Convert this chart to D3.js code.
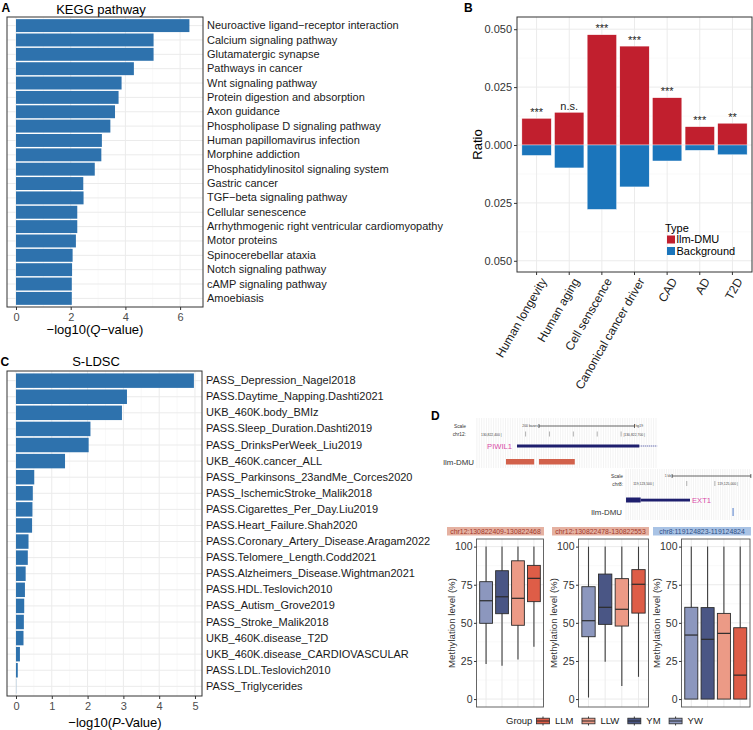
<!DOCTYPE html>
<html>
<head>
<meta charset="utf-8">
<script src="https://cdn.jsdelivr.net/npm/d3@7"></script>
<style>
  body { margin: 0; background: #fff; }
  svg { display: block; }
  text { font-family: "Liberation Sans", Arial, Helvetica, sans-serif; }
</style>
</head>
<body>
<svg width="753" height="730"></svg>
<script>
// ---------------- data ----------------
var keggPathways = [
  "Neuroactive ligand\u2212receptor interaction", "Calcium signaling pathway", "Glutamatergic synapse",
  "Pathways in cancer", "Wnt signaling pathway", "Protein digestion and absorption", "Axon guidance",
  "Phospholipase D signaling pathway", "Human papillomavirus infection", "Morphine addiction",
  "Phosphatidylinositol signaling system", "Gastric cancer", "TGF\u2212beta signaling pathway",
  "Cellular senescence", "Arrhythmogenic right ventricular cardiomyopathy", "Motor proteins",
  "Spinocerebellar ataxia", "Notch signaling pathway", "cAMP signaling pathway", "Amoebiasis"
];
var keggValues = [6.34, 5.03, 5.03, 4.31, 3.86, 3.75, 3.62, 3.45, 3.14, 3.12,
                  2.88, 2.46, 2.47, 2.24, 2.24, 2.19, 2.07, 2.05, 2.04, 2.04];
var keggTicks = [0, 2, 4, 6];

var ldscTraits = [
  "PASS_Depression_Nagel2018", "PASS.Daytime_Napping.Dashti2021", "UKB_460K.body_BMIz",
  "PASS.Sleep_Duration.Dashti2019", "PASS_DrinksPerWeek_Liu2019", "UKB_460K.cancer_ALL",
  "PASS_Parkinsons_23andMe_Corces2020", "PASS_IschemicStroke_Malik2018", "PASS.Cigarettes_Per_Day.Liu2019",
  "PASS.Heart_Failure.Shah2020", "PASS.Coronary_Artery_Disease.Aragam2022", "PASS.Telomere_Length.Codd2021",
  "PASS.Alzheimers_Disease.Wightman2021", "PASS.HDL.Teslovich2010", "PASS_Autism_Grove2019",
  "PASS_Stroke_Malik2018", "UKB_460K.disease_T2D", "UKB_460K.disease_CARDIOVASCULAR",
  "PASS.LDL.Teslovich2010", "PASS_Triglycerides"
];
var ldscValues = [4.97, 3.10, 2.96, 2.08, 2.03, 1.37, 0.51, 0.47, 0.46, 0.45,
                  0.35, 0.33, 0.27, 0.25, 0.23, 0.22, 0.21, 0.11, 0.05, 0.005];
var ldscTicks = [0, 1, 2, 3, 4, 5];

var geneSets = ["Human longevity", "Human aging", "Cell senscence", "Canonical cancer driver", "CAD", "AD", "T2D"];
var dmuRatio = [0.0115, 0.0141, 0.0476, 0.0427, 0.0204, 0.0079, 0.0094];
var backgroundRatio = [0.0045, 0.0099, 0.0278, 0.0181, 0.0069, 0.0023, 0.0042];
var sigLabels = ["***", "n.s.", "***", "***", "***", "***", "**"];
var ratioTicks = [-0.05, -0.025, 0, 0.025, 0.05];
var typeNames = ["llm-DMU", "Background"];

var groups = ["YW", "YM", "LLW", "LLM"];
var regionNames = ["chr12:130822409-130822468", "chr12:130822478-130822553", "chr8:119124823-119124824"];
// per region, per group: [lower whisker, Q1, median, Q3, upper whisker]
var boxRegion1 = [[23, 49.7, 64.5, 77, 100], [21.8, 56, 67.1, 84.2, 100], [26, 48.4, 66.1, 90.7, 100], [34.3, 63.9, 79.2, 87.7, 100]];
var boxRegion2 = [[1, 40.9, 51.4, 73.7, 100], [24.5, 49, 60.2, 82, 100], [8.5, 47.9, 58.9, 79, 100], [14.6, 56.4, 75.3, 84.9, 100]];
var boxRegion3 = [[0, 0, 42, 60.2, 100], [0, 0, 39.2, 60, 100], [0, 0, 43.1, 56.2, 100], [0, 0, 15.7, 46.8, 100]];
var methTicks = [0, 25, 50, 75, 100];

// genome browser tracks (hg19)
var piwil1Window = [130822348, 130822726];
var piwil1Exon = [130822432, 130822688];
var piwil1Dmus = [[130822409, 130822468], [130822478, 130822553]];
var piwil1RulerTicks = [130822450, 130822500, 130822550, 130822600, 130822650];
var ext1Window = [119122920, 119125150];
var ext1Cds = [119122920, 119123180];
var ext1Utr = [119123180, 119124058];
var ext1Dmu = [119124823, 119124824];
var ext1RulerTicks = [119124000, 119124500];

// ---------------- styles ----------------
var BAR = "#2e72ad", RED = "#c11f2e", BLUE = "#1b75bb";
var GRID = "#ebebeb", GRID_MINOR = "#f5f5f5", BORDER = "#333333", TICKTXT = "#4d4d4d";
var groupColor = { YW: "#8c97be", YM: "#4a5685", LLW: "#ec9a86", LLM: "#de5d47" };
var GENE = "#1e1f6e", MAGENTA = "#d84aa8", DMU = "#d2614b";

var svg = d3.select("svg");

function letter(t, x, y) {
  svg.append("text").attr("x", x).attr("y", y).attr("font-size", 12).attr("font-weight", "bold").text(t);
}
function styleAxis(g, size, color) {
  g.attr("font-family", null).attr("font-size", size);
  g.select(".domain").remove();
  g.selectAll(".tick line").attr("stroke", BORDER);
  g.selectAll(".tick text").attr("fill", color);
}

// ---------------- A & C: horizontal bar panels ----------------
function hbarPanel(names, values, box, xDomain, majors, minors) {
  var g = svg.append("g");
  var x = d3.scaleLinear().domain(xDomain).range([box.l, box.r]);
  var y = d3.scaleBand().domain(names).range([box.t, box.b]).paddingInner(0.1).paddingOuter(0.15);
  var c = y.bandwidth() / 2;
  g.selectAll(".mn").data(minors).enter().append("line")
    .attr("x1", x).attr("x2", x).attr("y1", box.t).attr("y2", box.b)
    .attr("stroke", GRID_MINOR).attr("stroke-width", 0.6);
  g.selectAll(".mj").data(majors).enter().append("line")
    .attr("x1", x).attr("x2", x).attr("y1", box.t).attr("y2", box.b)
    .attr("stroke", GRID).attr("stroke-width", 1);
  g.selectAll(".hj").data(names).enter().append("line")
    .attr("x1", box.l).attr("x2", box.r)
    .attr("y1", function (d) { return y(d) + c; }).attr("y2", function (d) { return y(d) + c; })
    .attr("stroke", GRID).attr("stroke-width", 1);
  g.selectAll(".bar").data(values).enter().append("rect")
    .attr("x", x(0)).attr("y", function (d, i) { return y(names[i]); })
    .attr("width", function (d) { return x(d) - x(0); }).attr("height", y.bandwidth())
    .attr("fill", BAR);
  g.append("rect").attr("x", box.l).attr("y", box.t).attr("width", box.r - box.l).attr("height", box.b - box.t)
    .attr("fill", "none").attr("stroke", BORDER).attr("stroke-width", 1);
  var ax = g.append("g").attr("transform", "translate(0," + box.b + ")")
    .call(d3.axisBottom(x).tickValues(majors).tickSize(3).tickPadding(3).tickFormat(d3.format("d")));
  styleAxis(ax, 11, TICKTXT);
  var ay = g.append("g").attr("transform", "translate(" + box.r + ",0)")
    .call(d3.axisRight(y).tickSize(0).tickPadding(4));
  styleAxis(ay, 11, "#1a1a1a");
  return g;
}

function axisTitle(x, y, before, italic, after) {
  var t = svg.append("text").attr("x", x).attr("y", y).attr("text-anchor", "middle").attr("font-size", 13);
  t.append("tspan").text(before);
  t.append("tspan").attr("font-style", "italic").text(italic);
  t.append("tspan").text(after);
}

letter("A", 1.5, 11.7);
svg.append("text").attr("x", 101).attr("y", 14).attr("text-anchor", "middle").attr("font-size", 13).text("KEGG pathway");
hbarPanel(keggPathways, keggValues, { l: 7, r: 203, t: 17, b: 307 }, [-0.329, 6.837], keggTicks, [1, 3, 5]);
axisTitle(95, 334, "\u2212log10(", "Q", "\u2212value)");

letter("C", 0.5, 365.7);
svg.append("text").attr("x", 96).attr("y", 365.7).attr("text-anchor", "middle").attr("font-size", 13).text("S-LDSC");
hbarPanel(ldscTraits, ldscValues, { l: 7, r: 202, t: 371, b: 696 }, [-0.251, 5.196], ldscTicks, [0.5, 1.5, 2.5, 3.5, 4.5]);
axisTitle(115, 727, "\u2212log10(", "P", "-Value)");

// ---------------- B: ratio bars ----------------
(function () {
  var box = { l: 517, r: 752, t: 17, b: 272 };
  var g = svg.append("g");
  var x = d3.scaleBand().domain(geneSets).range([box.l, box.r]).paddingInner(0.1).paddingOuter(0.15);
  var y = d3.scaleLinear().domain([-0.05484, 0.05527]).range([box.b, box.t]);
  var c = x.bandwidth() / 2;
  g.selectAll(".mn").data([-0.0375, -0.0125, 0.0125, 0.0375]).enter().append("line")
    .attr("x1", box.l).attr("x2", box.r).attr("y1", y).attr("y2", y)
    .attr("stroke", GRID_MINOR).attr("stroke-width", 0.6);
  g.selectAll(".mj").data(ratioTicks).enter().append("line")
    .attr("x1", box.l).attr("x2", box.r).attr("y1", y).attr("y2", y)
    .attr("stroke", GRID).attr("stroke-width", 1);
  g.selectAll(".vj").data(geneSets).enter().append("line")
    .attr("x1", function (d) { return x(d) + c; }).attr("x2", function (d) { return x(d) + c; })
    .attr("y1", box.t).attr("y2", box.b).attr("stroke", GRID).attr("stroke-width", 1);
  g.selectAll(".up").data(dmuRatio).enter().append("rect")
    .attr("x", function (d, i) { return x(geneSets[i]); }).attr("width", x.bandwidth())
    .attr("y", function (d) { return y(d); }).attr("height", function (d) { return y(0) - y(d); })
    .attr("fill", RED).attr("stroke", "#fff").attr("stroke-width", 0.4);
  g.selectAll(".dn").data(backgroundRatio).enter().append("rect")
    .attr("x", function (d, i) { return x(geneSets[i]); }).attr("width", x.bandwidth())
    .attr("y", y(0)).attr("height", function (d) { return y(-d) - y(0); })
    .attr("fill", BLUE).attr("stroke", "#fff").attr("stroke-width", 0.4);
  g.selectAll(".sig").data(sigLabels).enter().append("text")
    .attr("x", function (d, i) { return x(geneSets[i]) + c; })
    .attr("y", function (d, i) { return y(dmuRatio[i]) - 2.5; })
    .attr("text-anchor", "middle").attr("font-size", 11).attr("fill", "#222").text(function (d) { return d; });
  g.append("rect").attr("x", box.l).attr("y", box.t).attr("width", box.r - box.l).attr("height", box.b - box.t)
    .attr("fill", "none").attr("stroke", BORDER).attr("stroke-width", 1);
  var ay = g.append("g").attr("transform", "translate(" + box.l + ",0)")
    .call(d3.axisLeft(y).tickValues(ratioTicks).tickSize(3).tickPadding(2)
      .tickFormat(function (d) { return d3.format(".3f")(Math.abs(d)); }));
  styleAxis(ay, 11, "#333");
  var ax = g.append("g").attr("transform", "translate(0," + box.b + ")")
    .call(d3.axisBottom(x).tickSize(3).tickPadding(2));
  styleAxis(ax, 12, "#222");
  ax.selectAll(".tick text").attr("text-anchor", "end").attr("dy", "0.6em")
    .attr("transform", "translate(0,3) rotate(-60)");
  svg.append("text").attr("transform", "translate(481.5," + ((box.t + box.b) / 2) + ") rotate(-90)")
    .attr("text-anchor", "middle").attr("font-size", 13).text("Ratio");
  // legend
  svg.append("text").attr("x", 665).attr("y", 232).attr("font-size", 11).text("Type");
  var lg = svg.append("g").selectAll("g").data(typeNames).enter().append("g")
    .attr("transform", function (d, i) { return "translate(667," + (235.5 + i * 11.5) + ")"; });
  lg.append("rect").attr("width", 8).attr("height", 8).attr("fill", function (d, i) { return i ? BLUE : RED; });
  lg.append("text").attr("x", 9.5).attr("y", 4).attr("dy", "0.35em").attr("font-size", 11).text(function (d) { return d; });
  letter("B", 464, 11.7);
})();

// ---------------- D: genome browser tracks ----------------
letter("D", 431, 420);
(function () {
  var gx = d3.scaleLinear().domain([130822400, 130822700]).range([501.7, 645]);
  var g = svg.append("g");
  g.selectAll(".hatch").data(d3.range(piwil1Window[0], piwil1Window[1], 5)).enter().append("line")
    .attr("x1", gx).attr("x2", gx).attr("y1", 418).attr("y2", 468)
    .attr("stroke", "#e6e6e6").attr("stroke-width", 0.5);
  g.append("text").attr("x", 466).attr("y", 427.5).attr("text-anchor", "end").attr("font-size", 4.8).attr("fill", "#333").text("Scale");
  g.append("text").attr("x", 466).attr("y", 436).attr("text-anchor", "end").attr("font-size", 4.8).attr("fill", "#333").text("chr12:");
  g.append("text").attr("x", gx(130822400)).attr("y", 435.5).attr("text-anchor", "end").attr("font-size", 3.4).attr("fill", "#444").text("130,822,400 |");
  g.append("text").attr("x", gx(130822700)).attr("y", 435.5).attr("text-anchor", "end").attr("font-size", 3.4).attr("fill", "#444").text("|130,822,700 |");
  g.selectAll(".rt").data(piwil1RulerTicks).enter().append("line")
    .attr("x1", gx).attr("x2", gx).attr("y1", 431.5).attr("y2", 436.5).attr("stroke", "#666").attr("stroke-width", 0.5);
  var sb = [130822478, 130822678];
  g.append("line").attr("x1", gx(sb[0])).attr("x2", gx(sb[1])).attr("y1", 426).attr("y2", 426).attr("stroke", "#222").attr("stroke-width", 0.7);
  g.selectAll(".sbt").data(sb).enter().append("line").attr("x1", gx).attr("x2", gx).attr("y1", 424).attr("y2", 428).attr("stroke", "#222").attr("stroke-width", 0.7);
  g.append("text").attr("x", gx(sb[0]) - 1).attr("y", 427).attr("text-anchor", "end").attr("font-size", 3.4).attr("fill", "#444").text("200 bases");
  g.append("text").attr("x", gx(sb[1]) + 1).attr("y", 427).attr("font-size", 3.4).attr("fill", "#444").text("hg19");
  g.append("text").attr("x", 512).attr("y", 446).attr("dy", "0.35em").attr("text-anchor", "end").attr("font-size", 7.6).attr("fill", MAGENTA).text("PIWIL1");
  g.append("line").attr("x1", gx(piwil1Exon[0])).attr("x2", gx(piwil1Exon[1])).attr("y1", 446).attr("y2", 446).attr("stroke", GENE).attr("stroke-width", 2.8);
  g.append("line").attr("x1", gx(piwil1Exon[1])).attr("x2", gx(piwil1Window[1])).attr("y1", 446).attr("y2", 446)
    .attr("stroke", "#7a7fb8").attr("stroke-width", 1.6).attr("stroke-dasharray", "1,1");
  g.append("text").attr("x", 474).attr("y", 462).attr("dy", "0.35em").attr("text-anchor", "end").attr("font-size", 7.9).attr("fill", "#333").text("llm-DMU");
  g.selectAll(".dmu").data(piwil1Dmus).enter().append("rect")
    .attr("x", function (d) { return gx(d[0]); }).attr("width", function (d) { return gx(d[1]) - gx(d[0]); })
    .attr("y", 459).attr("height", 5.5).attr("fill", DMU);
})();
(function () {
  var gx = d3.scaleLinear().domain([119124058, 119124823]).range([690, 733]);
  var g = svg.append("g");
  g.selectAll(".hatch").data(d3.range(ext1Window[0], ext1Window[1], 40)).enter().append("line")
    .attr("x1", gx).attr("x2", gx).attr("y1", 469).attr("y2", 520)
    .attr("stroke", "#e6e6e6").attr("stroke-width", 0.5);
  g.append("text").attr("x", 623).attr("y", 477.5).attr("text-anchor", "end").attr("font-size", 4.8).attr("fill", "#333").text("Scale");
  g.append("text").attr("x", 623).attr("y", 485.5).attr("text-anchor", "end").attr("font-size", 4.8).attr("fill", "#333").text("chr8:");
  g.append("text").attr("x", gx(119123500) - 5).attr("y", 485).attr("text-anchor", "end").attr("font-size", 3.4).attr("fill", "#444").text("119,123,500 |");
  g.append("text").attr("x", gx(119125000) - 5).attr("y", 485).attr("text-anchor", "end").attr("font-size", 3.4).attr("fill", "#444").text("119,125,000 |");
  g.selectAll(".rt").data(ext1RulerTicks).enter().append("line")
    .attr("x1", gx).attr("x2", gx).attr("y1", 481).attr("y2", 486).attr("stroke", "#666").attr("stroke-width", 0.5);
  var sb = [119123740, 119125140];
  g.append("line").attr("x1", gx(sb[0])).attr("x2", gx(sb[1])).attr("y1", 476).attr("y2", 476).attr("stroke", "#222").attr("stroke-width", 0.7);
  g.selectAll(".sbt").data(sb).enter().append("line").attr("x1", gx).attr("x2", gx).attr("y1", 474).attr("y2", 478).attr("stroke", "#222").attr("stroke-width", 0.7);
  g.append("text").attr("x", gx(sb[0]) - 1).attr("y", 477).attr("text-anchor", "end").attr("font-size", 3.4).attr("fill", "#444").text("1 kb");
  g.append("rect").attr("x", gx(ext1Cds[0])).attr("width", gx(ext1Cds[1]) - gx(ext1Cds[0])).attr("y", 497.5).attr("height", 5).attr("fill", GENE);
  g.append("rect").attr("x", gx(ext1Utr[0])).attr("width", gx(ext1Utr[1]) - gx(ext1Utr[0])).attr("y", 498.7).attr("height", 2.8).attr("fill", GENE);
  g.append("text").attr("x", gx(ext1Utr[1]) + 2).attr("y", 500).attr("dy", "0.35em").attr("font-size", 7.6).attr("fill", MAGENTA).text("EXT1");
  g.append("text").attr("x", 622).attr("y", 512).attr("dy", "0.35em").attr("text-anchor", "end").attr("font-size", 7.9).attr("fill", "#333").text("llm-DMU");
  g.append("rect").attr("x", gx(ext1Dmu[0]) - 0.4).attr("width", Math.max(0.9, gx(ext1Dmu[1]) - gx(ext1Dmu[0])))
    .attr("y", 508).attr("height", 8).attr("fill", "#3b6cc4");
})();

// ---------------- D: boxplots ----------------
function boxPanel(stats, box, stripBox, name, stripFill, stripText) {
  var g = svg.append("g");
  var x = d3.scaleBand().domain(groups).range([box.l, box.r]).paddingInner(0.2).paddingOuter(0.2);
  var y = d3.scaleLinear().domain([-5.2, 105]).range([box.b, box.t]);
  var c = x.bandwidth() / 2;
  g.append("rect").attr("x", stripBox.l).attr("y", 527).attr("width", stripBox.r - stripBox.l).attr("height", 8.5).attr("fill", stripFill);
  g.append("text").attr("x", (stripBox.l + stripBox.r) / 2).attr("y", 531.3).attr("dy", "0.35em")
    .attr("text-anchor", "middle").attr("font-size", 6.9).attr("fill", stripText).text(name);
  g.selectAll(".mn").data([12.5, 37.5, 62.5, 87.5]).enter().append("line")
    .attr("x1", box.l).attr("x2", box.r).attr("y1", y).attr("y2", y).attr("stroke", GRID_MINOR).attr("stroke-width", 0.6);
  g.selectAll(".mj").data(methTicks).enter().append("line")
    .attr("x1", box.l).attr("x2", box.r).attr("y1", y).attr("y2", y).attr("stroke", GRID).attr("stroke-width", 1);
  g.selectAll(".vj").data(groups).enter().append("line")
    .attr("x1", function (d) { return x(d) + c; }).attr("x2", function (d) { return x(d) + c; })
    .attr("y1", box.t).attr("y2", box.b).attr("stroke", GRID).attr("stroke-width", 1);
  var b = g.selectAll(".bx").data(stats).enter().append("g");
  b.append("line").attr("x1", function (d, i) { return x(groups[i]) + c; }).attr("x2", function (d, i) { return x(groups[i]) + c; })
    .attr("y1", function (d) { return y(d[0]); }).attr("y2", function (d) { return y(d[4]); })
    .attr("stroke", "#3d3d3d").attr("stroke-width", 1.1);
  b.append("rect").attr("x", function (d, i) { return x(groups[i]); }).attr("width", x.bandwidth())
    .attr("y", function (d) { return y(d[3]); }).attr("height", function (d) { return y(d[1]) - y(d[3]); })
    .attr("fill", function (d, i) { return groupColor[groups[i]]; }).attr("stroke", "#2b2b2b").attr("stroke-width", 0.9);
  b.append("line").attr("x1", function (d, i) { return x(groups[i]); }).attr("x2", function (d, i) { return x(groups[i]) + x.bandwidth(); })
    .attr("y1", function (d) { return y(d[2]); }).attr("y2", function (d) { return y(d[2]); })
    .attr("stroke", "#2b2b2b").attr("stroke-width", 1.2);
  g.append("rect").attr("x", box.l).attr("y", box.t).attr("width", box.r - box.l).attr("height", box.b - box.t)
    .attr("fill", "none").attr("stroke", "#555").attr("stroke-width", 0.9);
  var ay = g.append("g").attr("transform", "translate(" + box.l + ",0)")
    .call(d3.axisLeft(y).tickValues(methTicks).tickSize(2.5).tickPadding(1.5));
  styleAxis(ay, 10.5, "#333");
  g.append("text").attr("transform", "translate(" + (box.l - 22) + "," + ((box.t + box.b) / 2) + ") rotate(-90)")
    .attr("text-anchor", "middle").attr("font-size", 9.7).attr("fill", "#333").text("Methylation level (%)");
}
boxPanel(boxRegion1, { l: 476.5, r: 543.5, t: 539, b: 707 }, { l: 447, r: 544 }, regionNames[0], "#e5b1a1", "#a3382a");
boxPanel(boxRegion2, { l: 578.5, r: 648.5, t: 539, b: 707 }, { l: 552, r: 649 }, regionNames[1], "#e5b1a1", "#a3382a");
boxPanel(boxRegion3, { l: 681.5, r: 750, t: 539, b: 707 }, { l: 653, r: 751 }, regionNames[2], "#a9c3e5", "#2f4f86");

// legend
(function () {
  var order = groups.slice().reverse();
  svg.append("text").attr("x", 506).attr("y", 721).attr("dy", "0.35em").attr("font-size", 9.5).attr("fill", "#222").text("Group");
  var g = svg.append("g").attr("font-size", 9.5);
  var xPos = 536;
  order.forEach(function (d) {
    var k = g.append("g").attr("transform", "translate(" + xPos + ",721)");
    k.append("line").attr("x1", 7).attr("x2", 7).attr("y1", -4.5).attr("y2", 4.5).attr("stroke", "#3d3d3d").attr("stroke-width", 1);
    k.append("rect").attr("x", 0.5).attr("y", -2.8).attr("width", 13).attr("height", 5.6)
      .attr("fill", groupColor[d]).attr("stroke", "#2b2b2b").attr("stroke-width", 0.8);
    k.append("line").attr("x1", 0.5).attr("x2", 13.5).attr("y1", 0).attr("y2", 0).attr("stroke", "#2b2b2b").attr("stroke-width", 1);
    var t = k.append("text").attr("x", 19).attr("y", 0).attr("dy", "0.35em").attr("fill", "#222").text(d);
    xPos += 19 + t.node().getComputedTextLength() + 8;
  });
})();
</script>
</body>
</html>
